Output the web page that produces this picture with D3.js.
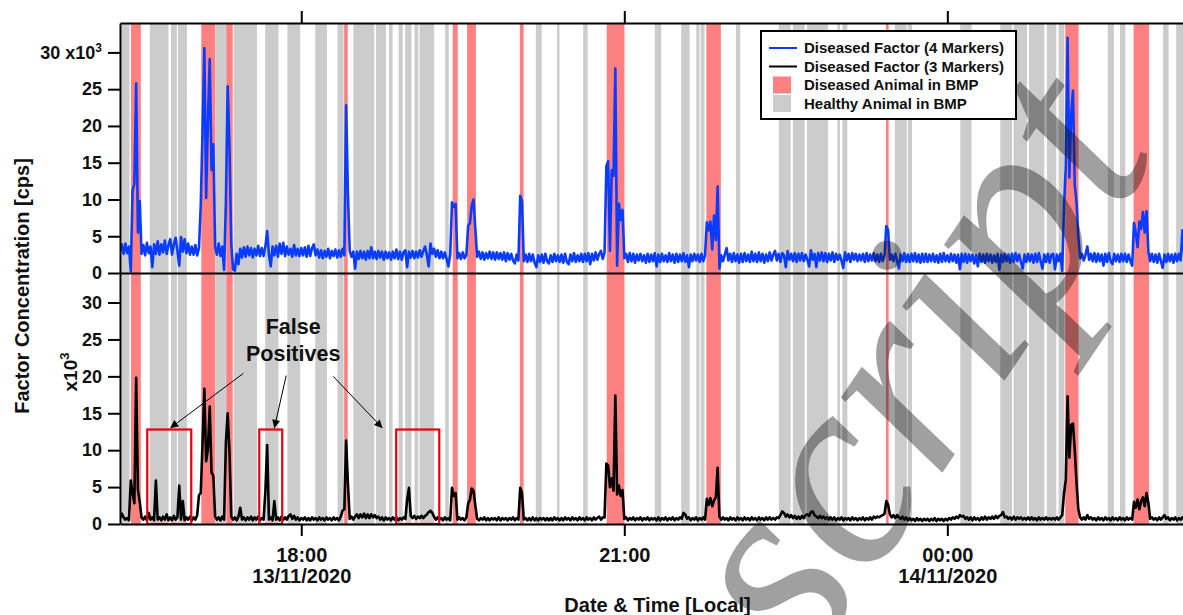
<!DOCTYPE html>
<html>
<head>
<meta charset="utf-8">
<script src="https://cdn.jsdelivr.net/npm/d3@7"></script>
<style>
  body { margin: 0; background: #fff; }
  svg { display: block; }
  text { font-family: "Liberation Sans", Arial, sans-serif; font-weight: bold; fill: #111; }
</style>
</head>
<body>
<svg id="chart" width="1183" height="615"></svg>
<script>
// Recording starts 13/11/2020 16:19 local time, one sample per minute.
const recordStart = new Date(2020, 10, 13, 16, 19);
const sampleMinutes = 1;

// Diseased factor, 4 markers (x10^3 cps)
const factor4 = [
  3.0, 3.9, 2.6, 4.0, 2.7, 3.6, 0.2, 11.2, 12.1, 25.8,
  5.5, 9.8, 2.6, 3.8, 2.4, 4.1, 2.7, 3.6, 0.8, 3.9,
  2.6, 4.3, 2.5, 3.9, 2.8, 4.4, 2.6, 3.8, 4.6, 2.5,
  3.9, 4.8, 3.0, 1.0, 4.9, 2.9, 4.6, 2.7, 4.0, 2.5,
  3.6, 2.5, 3.8, 2.4, 3.4, 9.2, 19.5, 30.6, 10.2, 20.8,
  29.1, 14.0, 17.5, 3.6, 2.5, 4.0, 2.3, 3.6, 0.4, 9.5,
  25.4, 17.2, 4.0, 0.5, 0.3, 2.6, 1.2, 3.3, 2.1, 3.5,
  2.2, 3.6, 2.4, 3.4, 2.1, 3.3, 2.4, 3.7, 2.3, 3.4,
  2.3, 3.6, 5.7, 2.5, 0.9, 3.6, 2.4, 3.7, 2.2, 4.0,
  2.6, 4.1, 2.3, 3.6, 2.5, 3.3, 2.2, 3.8, 2.4, 3.3,
  2.3, 3.4, 2.4, 3.5, 2.2, 3.7, 2.3, 3.4, 3.9, 2.4,
  3.2, 2.1, 3.1, 2.0, 3.0, 2.2, 3.3, 2.0, 3.0, 2.3,
  3.2, 2.1, 3.1, 2.2, 3.3, 2.4, 22.8, 10.8, 3.0, 2.2,
  2.9, 0.6, 2.9, 1.9, 3.0, 2.0, 2.9, 1.8, 3.0, 2.0,
  3.5, 2.0, 2.9, 1.9, 3.0, 2.1, 2.9, 1.8, 2.9, 2.0,
  2.8, 1.8, 2.9, 2.0, 3.2, 1.9, 2.9, 1.8, 2.8, 3.1,
  0.8, 2.9, 2.1, 3.0, 2.0, 2.9, 2.1, 3.1, 2.2, 3.0,
  3.6, 2.4, 0.9, 4.0, 2.6, 3.3, 2.2, 3.1, 2.0, 2.9,
  2.0, 2.8, 1.9, 0.9, 2.6, 9.6, 9.0, 9.4, 2.0, 2.7,
  1.9, 2.8, 2.0, 2.5, 6.4, 6.8, 9.2, 10.0, 6.0, 2.2,
  2.9, 1.9, 2.8, 1.8, 2.7, 2.0, 2.9, 1.9, 2.8, 1.8,
  2.8, 1.9, 2.7, 1.8, 2.8, 1.6, 2.7, 1.8, 2.6, 1.7,
  1.3, 2.5, 1.7, 10.5, 9.8, 1.6, 2.5, 1.5, 2.6, 1.6,
  2.5, 1.4, 0.8, 2.4, 1.5, 2.5, 1.4, 2.6, 1.6, 1.3,
  2.4, 1.5, 2.6, 1.6, 2.4, 1.5, 2.5, 1.4, 2.6, 1.5,
  1.2, 2.5, 1.6, 2.7, 1.5, 2.4, 1.6, 2.6, 1.5, 2.6,
  1.6, 2.7, 1.2, 2.6, 1.7, 2.8, 1.8, 2.6, 3.0, 1.9,
  2.8, 14.5, 15.2, 3.0, 14.0, 13.2, 27.8, 1.0, 9.4, 7.2,
  8.6, 2.0, 2.6, 1.5, 2.7, 1.6, 2.6, 1.4, 2.5, 1.7,
  2.6, 1.6, 2.4, 1.4, 2.6, 1.5, 2.5, 1.6, 2.7, 0.9,
  2.5, 1.5, 2.6, 1.6, 2.4, 1.5, 2.7, 1.6, 2.5, 1.4,
  2.6, 1.5, 2.5, 1.6, 2.7, 1.5, 2.4, 0.8, 2.5, 1.6,
  2.6, 1.7, 2.5, 1.5, 2.6, 1.6, 2.4, 6.9, 5.8, 7.0,
  3.2, 7.8, 4.5, 11.8, 0.6, 2.4, 1.6, 2.5, 3.4, 1.7,
  2.6, 1.5, 2.7, 1.6, 2.5, 1.4, 2.6, 1.5, 2.7, 1.6,
  2.5, 1.5, 2.9, 1.6, 2.6, 1.5, 2.8, 1.6, 2.6, 1.4,
  2.5, 1.6, 2.8, 1.7, 2.5, 3.0, 1.7, 2.6, 1.5, 2.7,
  2.4, 0.8, 3.0, 1.8, 2.6, 1.6, 2.7, 1.5, 2.6, 1.7,
  2.7, 1.6, 2.5, 1.8, 0.9, 3.1, 1.8, 2.6, 0.8, 2.7,
  1.7, 2.8, 1.6, 2.7, 1.5, 2.6, 1.7, 2.8, 1.5, 2.6,
  1.8, 2.5, 1.7, 0.7, 2.8, 1.7, 2.6, 1.5, 2.7, 1.8,
  2.6, 1.6, 2.5, 1.7, 2.6, 1.5, 2.7, 1.6, 2.5, 1.7,
  2.7, 1.6, 2.5, 1.5, 2.6, 1.6, 2.4, 6.4, 5.8, 1.8,
  2.5, 1.6, 2.6, 1.7, 0.6, 2.5, 1.6, 2.7, 1.5, 2.5,
  1.5, 2.6, 1.6, 2.7, 1.5, 2.5, 1.4, 2.6, 1.5, 2.6,
  1.5, 2.5, 1.6, 2.6, 1.5, 2.4, 1.4, 2.6, 1.5, 2.7,
  1.6, 2.4, 1.5, 2.6, 1.6, 2.5, 1.4, 2.5, 0.5, 2.6,
  1.5, 2.6, 1.4, 2.5, 1.6, 2.5, 1.3, 2.4, 0.9, 2.6,
  1.5, 2.5, 1.4, 2.6, 1.6, 2.5, 1.4, 2.4, 1.5, 2.6,
  0.4, 2.5, 1.5, 2.6, 1.6, 2.5, 1.4, 2.6, 1.5, 2.7,
  1.6, 2.5, 1.5, 0.6, 2.5, 1.5, 2.6, 1.6, 2.5, 1.4,
  2.6, 1.5, 2.7, 1.6, 0.6, 2.5, 1.5, 2.6, 1.4, 2.5,
  2.6, 0.5, 2.5, 1.6, 2.6, 0.3, 8.8, 14.5, 32.0, 13.0,
  21.4, 24.8, 12.0, 9.5, 5.0, 2.0, 2.6, 1.7, 2.5, 3.6,
  1.8, 2.6, 1.6, 2.7, 1.5, 2.6, 1.6, 2.5, 1.0, 2.6,
  1.5, 2.7, 1.6, 1.2, 2.6, 1.6, 2.5, 1.5, 2.6, 1.6,
  2.6, 1.5, 2.5, 1.6, 1.0, 6.8, 5.5, 3.5, 7.0, 6.0,
  8.3, 5.5, 8.4, 3.0, 1.6, 2.6, 1.5, 2.5, 1.4, 2.6,
  1.6, 0.7, 2.5, 1.5, 2.6, 1.6, 2.5, 1.4, 2.6, 1.6,
  2.6, 1.7, 5.8, 2.4, 1.6, 2.5, 1.5, 2.6, 1.6, 2.4
];

// Diseased factor, 3 markers (x10^3 cps)
const factor3 = [
  0.8, 1.4, 0.9, 0.6, 0.8, 0.5, 5.9, 4.2, 2.8, 19.8,
  4.6, 3.0, 0.9, 0.6, 1.0, 0.5, 1.5, 0.6, 0.9, 0.5,
  5.9, 0.6, 0.9, 0.5, 1.0, 0.6, 1.3, 0.5, 0.9, 0.5,
  1.1, 0.6, 0.9, 5.2, 0.6, 3.1, 0.5, 0.9, 0.6, 1.0,
  0.5, 0.9, 0.6, 1.2, 3.9, 4.2, 11.0, 18.3, 8.5, 10.2,
  15.9, 7.0, 6.5, 1.0, 0.6, 0.9, 0.5, 1.0, 0.6, 11.0,
  15.0, 9.8, 1.0, 0.6, 0.9, 0.5, 1.0, 2.2, 0.6, 0.9,
  0.5, 0.9, 0.6, 1.0, 0.5, 0.9, 0.6, 1.0, 0.5, 0.8,
  0.6, 4.4, 10.7, 0.6, 0.9, 0.5, 3.1, 0.6, 0.9, 0.5,
  1.0, 0.6, 0.9, 0.6, 1.1, 1.3, 0.7, 1.1, 0.6, 0.9,
  0.5, 0.8, 0.6, 0.9, 0.5, 0.8, 0.5, 0.9, 0.6, 0.8,
  0.5, 0.9, 0.6, 0.8, 0.5, 0.9, 0.6, 0.8, 0.5, 0.9,
  0.6, 0.8, 0.5, 1.0, 1.8, 2.0, 11.3, 5.5, 0.7, 1.0,
  0.6, 1.0, 1.3, 0.8, 1.3, 0.9, 1.4, 0.8, 1.3, 0.8,
  1.3, 0.9, 1.2, 0.8, 1.0, 0.6, 0.9, 0.5, 0.9, 0.6,
  0.8, 0.5, 0.9, 0.6, 0.9, 0.5, 0.8, 0.6, 0.9, 0.7,
  3.3, 4.9, 1.1, 0.8, 1.1, 0.7, 1.0, 0.8, 1.1, 0.8,
  1.1, 1.3, 1.6, 1.8, 1.5, 1.0, 0.6, 0.9, 0.6, 0.8,
  0.5, 0.9, 0.6, 0.8, 0.5, 4.9, 3.8, 4.2, 0.6, 0.9,
  0.6, 0.8, 0.5, 0.9, 2.8, 3.3, 4.8, 4.5, 2.5, 0.7,
  0.5, 0.8, 0.6, 0.9, 0.5, 0.8, 0.5, 0.8, 0.6, 0.8,
  0.5, 0.9, 0.5, 0.8, 0.6, 0.8, 0.5, 0.8, 0.6, 0.9,
  0.5, 0.8, 0.6, 4.9, 4.2, 0.6, 0.8, 0.5, 0.8, 0.5,
  0.9, 0.5, 0.8, 0.5, 0.8, 0.6, 0.8, 0.5, 0.8, 0.5,
  0.8, 0.5, 0.9, 0.6, 0.8, 0.5, 0.8, 0.5, 0.9, 0.6,
  0.8, 0.5, 0.9, 0.6, 0.8, 0.5, 0.9, 0.6, 0.8, 0.5,
  0.9, 0.6, 0.8, 0.5, 0.9, 0.6, 0.8, 1.0, 0.6, 0.9,
  0.9, 8.2, 7.9, 5.0, 6.2, 4.5, 17.4, 4.0, 5.2, 3.8,
  4.6, 0.7, 0.9, 0.5, 0.8, 0.6, 0.9, 0.5, 0.8, 0.6,
  0.9, 0.5, 0.8, 0.6, 0.9, 0.5, 0.8, 0.6, 0.8, 0.5,
  0.9, 0.5, 0.8, 0.6, 0.9, 0.5, 0.8, 0.6, 0.9, 0.5,
  0.8, 0.6, 0.9, 0.7, 1.5, 1.3, 0.7, 0.9, 0.5, 0.8,
  0.6, 0.9, 0.5, 0.8, 0.6, 0.9, 0.6, 3.4, 2.6, 3.5,
  2.4, 3.2, 3.6, 7.6, 1.0, 0.6, 0.9, 0.6, 0.8, 0.5,
  0.9, 0.6, 0.8, 0.5, 0.9, 0.6, 0.8, 0.5, 0.9, 0.6,
  0.8, 0.5, 0.9, 0.6, 0.8, 0.5, 0.9, 0.6, 0.8, 0.5,
  0.9, 0.6, 0.9, 0.6, 0.8, 0.6, 0.9, 0.8, 1.2, 1.7,
  1.5, 1.0, 1.3, 0.9, 1.2, 0.8, 1.1, 0.7, 1.0, 0.7,
  1.1, 0.8, 1.2, 1.3, 1.1, 1.6, 1.7, 1.2, 1.0, 0.8,
  1.1, 0.8, 1.0, 0.7, 0.9, 0.6, 0.9, 0.6, 0.9, 0.5,
  0.8, 0.6, 0.9, 0.5, 0.8, 0.6, 0.8, 0.5, 0.9, 0.6,
  0.8, 0.5, 0.8, 0.6, 0.9, 0.5, 0.8, 0.6, 0.9, 0.6,
  1.0, 0.8, 1.0, 0.9, 1.1, 1.2, 1.4, 3.1, 2.6, 1.3,
  0.9, 1.2, 0.8, 1.2, 0.9, 0.7, 1.0, 0.6, 0.9, 0.5,
  0.8, 0.5, 0.7, 0.4, 0.8, 0.5, 0.7, 0.4, 0.7, 0.5,
  0.7, 0.4, 0.7, 0.5, 0.8, 0.4, 0.7, 0.5, 0.7, 0.4,
  0.7, 0.5, 0.8, 0.6, 0.9, 0.7, 1.0, 0.8, 1.2, 1.0,
  1.1, 0.7, 0.9, 0.6, 0.9, 0.5, 0.9, 0.6, 0.8, 0.5,
  0.9, 0.6, 1.0, 0.6, 0.9, 0.7, 1.0, 0.7, 1.1, 0.8,
  1.1, 1.2, 1.6, 0.9, 1.0, 0.7, 0.9, 0.6, 1.0, 0.6,
  0.9, 0.7, 0.9, 0.6, 0.8, 0.6, 0.9, 0.6, 0.9, 0.6,
  0.8, 0.5, 0.9, 0.6, 0.8, 0.6, 0.9, 0.6, 0.8, 0.6,
  0.8, 0.6, 0.9, 0.6, 0.9, 1.2, 4.1, 6.0, 17.3, 9.0,
  13.4, 13.6, 10.0, 5.5, 2.0, 0.9, 0.6, 0.9, 0.6, 1.2,
  0.7, 0.9, 0.6, 0.8, 0.5, 0.9, 0.6, 0.8, 0.5, 0.9,
  0.6, 0.8, 0.5, 0.9, 0.6, 0.8, 0.5, 0.9, 0.6, 0.8,
  0.5, 0.9, 0.6, 0.8, 0.6, 3.0, 2.2, 3.3, 2.0, 3.1,
  3.6, 2.4, 4.2, 2.9, 0.7, 0.9, 0.6, 0.8, 0.5, 0.9,
  0.6, 0.9, 1.2, 0.7, 0.9, 0.5, 0.8, 0.6, 0.9, 0.5,
  0.8, 0.6, 0.9, 0.6, 0.8, 0.5, 0.9, 0.6, 0.8, 0.6
];

// Animal presence in the BMP, as [start, end] in minutes after recordStart
const diseasedVisits = [
  [6.1, 11.6], [45.3, 53.1], [59.2, 62.8], [124.9, 126.9], [185.4, 188.2],
  [193.4, 198.3], [222.8, 224.9], [271.2, 281.1], [326.7, 334.8],
  [426.8, 428.3], [526.7, 534.1], [564.8, 573.4]
];
const healthyVisits = [
  [0.9, 5.3], [16.6, 27.0], [28.4, 31.7], [32.3, 37.3], [53.3, 59.0],
  [63.3, 76.3], [80.9, 88.3], [93.3, 100.4], [108.8, 115.3], [121.2, 124.6],
  [130.0, 141.7], [142.6, 148.2], [149.9, 151.9], [155.2, 157.5], [158.9, 162.4],
  [164.1, 166.2], [166.9, 175.1], [181.2, 183.2], [231.7, 235.0], [243.5, 244.9],
  [258.1, 260.6], [298.0, 301.6], [312.7, 317.4], [321.1, 322.9], [323.5, 325.7],
  [343.2, 345.6], [367.1, 373.7], [374.9, 381.5], [382.8, 394.5], [399.7, 401.2],
  [402.5, 405.3], [431.7, 438.4], [439.0, 441.3], [468.2, 474.5], [490.5, 497.0],
  [497.9, 505.4], [506.5, 515.0], [516.5, 521.7], [523.0, 526.2], [550.4, 553.8],
  [557.2, 560.2], [581.2, 584.3], [588.5, 593.0]
];

// False-positive windows on the 3-marker factor: [start min, end min, upper level]
const falsePositiveWindows = [[15.2, 39.7, 12.8], [77.6, 90.4, 12.8], [153.9, 177.9, 12.8]];
// Callout text anchor and arrows [fromMin, fromLevel, toMin, toLevel]
const calloutAnchor = [96.5, 25.7];
const calloutLines = ["False", "Positives"];
const calloutArrows = [[68.7, 20.4, 28.0, 13.0], [92.6, 20.1, 86.0, 13.0], [118.8, 20.0, 146.2, 13.0]];

const levelTicks = [0, 5, 10, 15, 20, 25, 30];
const timeTicks = [new Date(2020, 10, 13, 18), new Date(2020, 10, 13, 21), new Date(2020, 10, 14, 0)];
const timeTickLabels = [["18:00", "13/11/2020"], ["21:00"], ["00:00", "14/11/2020"]];
const legendItems = [
  { label: "Diseased Factor (4 Markers)", kind: "line", color: "#0a3cff" },
  { label: "Diseased Factor (3 Markers)", kind: "line", color: "#000" },
  { label: "Diseased Animal in BMP", kind: "box", color: "#ff8080" },
  { label: "Healthy Animal in BMP", kind: "box", color: "#cccccc" }
];

const atMinute = m => new Date(recordStart.getTime() + m * 60000);
const lastMinute = (factor4.length - 1) * sampleMinutes;

const svg = d3.select("#chart");
const plotLeft = 120, plotRight = 1195, plotTop = 23, plotMid = 273, plotBottom = 524;

const x = d3.scaleTime().domain([atMinute(0), atMinute(lastMinute)]).range([plotLeft, plotRight]);
const yTop = d3.scaleLinear().domain([0, 34]).range([plotMid, plotTop]);
const yBot = d3.scaleLinear().domain([0, 34]).range([plotBottom, plotMid]);

const defs = svg.append("defs");
defs.append("clipPath").attr("id", "plotClip")
  .append("rect").attr("x", plotLeft).attr("y", plotTop)
  .attr("width", plotRight - plotLeft).attr("height", plotBottom - plotTop);

const plot = svg.append("g").attr("clip-path", "url(#plotClip)");
const spanX = d => x(atMinute(d[0]));
const spanW = d => x(atMinute(d[1])) - x(atMinute(d[0]));

// Presence bands through both panels
plot.append("g").selectAll("rect").data(healthyVisits).join("rect")
  .attr("x", spanX).attr("width", spanW)
  .attr("y", plotTop).attr("height", plotBottom - plotTop).attr("fill", "#cccccc");
plot.append("g").selectAll("rect").data(diseasedVisits).join("rect")
  .attr("x", spanX).attr("width", spanW)
  .attr("y", plotTop).attr("height", plotBottom - plotTop).attr("fill", "#ff8080");

// Factor traces
const lineTop = d3.line().x((d, i) => x(atMinute(i * sampleMinutes))).y(d => yTop(d));
const lineBot = d3.line().x((d, i) => x(atMinute(i * sampleMinutes))).y(d => yBot(d));
plot.append("path").datum(factor4).attr("d", lineTop)
  .attr("fill", "none").attr("stroke", "#0a3cff").attr("stroke-width", 2.6).attr("stroke-linejoin", "round");
plot.append("path").datum(factor3).attr("d", lineBot)
  .attr("fill", "none").attr("stroke", "#000").attr("stroke-width", 2.6).attr("stroke-linejoin", "round");

// False-positive windows
plot.append("g").selectAll("rect").data(falsePositiveWindows).join("rect")
  .attr("x", spanX).attr("width", spanW)
  .attr("y", d => yBot(d[2])).attr("height", d => yBot(0) - yBot(d[2]))
  .attr("fill", "none").attr("stroke", "#e8000b").attr("stroke-width", 2.2);

// Callout
defs.append("marker").attr("id", "arrowHead")
  .attr("viewBox", "0 0 10 10").attr("refX", 10).attr("refY", 5)
  .attr("markerWidth", 11).attr("markerHeight", 8).attr("markerUnits", "userSpaceOnUse")
  .attr("orient", "auto")
  .append("path").attr("d", "M0,0 L10,5 L0,10 z").attr("fill", "#000");
svg.append("g").selectAll("line").data(calloutArrows).join("line")
  .attr("x1", d => x(atMinute(d[0]))).attr("y1", d => yBot(d[1]))
  .attr("x2", d => x(atMinute(d[2]))).attr("y2", d => yBot(d[3]))
  .attr("stroke", "#000").attr("stroke-width", 1).attr("marker-end", "url(#arrowHead)");
svg.append("text").attr("text-anchor", "middle").style("font-size", "21.5px")
  .selectAll("tspan").data(calloutLines).join("tspan")
  .attr("x", x(atMinute(calloutAnchor[0])))
  .attr("y", (d, i) => yBot(calloutAnchor[1]) + i * 27).text(d => d);

// Axes
const styleAxis = g => {
  g.select(".domain").attr("stroke", "#000").attr("stroke-width", 2);
  g.selectAll(".tick line").attr("stroke", "#000").attr("stroke-width", 2);
};
svg.append("g").attr("transform", `translate(0,${plotTop})`)
  .call(d3.axisTop(x).tickValues(timeTicks).tickSize(12).tickSizeOuter(0).tickFormat(""))
  .call(styleAxis);
svg.append("g").attr("transform", `translate(0,${plotMid})`)
  .call(d3.axisBottom(x).tickValues([]).tickSizeOuter(0))
  .call(styleAxis);
const xAxis = svg.append("g").attr("transform", `translate(0,${plotBottom})`)
  .call(d3.axisBottom(x).tickValues(timeTicks).tickSize(12).tickSizeOuter(0).tickFormat(""))
  .call(styleAxis);
xAxis.selectAll(".tick").each(function (d, i) {
  const t = d3.select(this).append("text").attr("fill", "#111").attr("text-anchor", "middle")
    .style("font-size", "20px");
  timeTickLabels[i].forEach((s, k) => t.append("tspan").attr("x", 0).attr("y", 38 + k * 21).text(s));
});

const yAxisTop = svg.append("g").attr("transform", `translate(${plotLeft},0)`)
  .call(d3.axisLeft(yTop).tickValues(levelTicks).tickSize(12).tickSizeOuter(0).tickPadding(6))
  .call(styleAxis);
const yAxisBot = svg.append("g").attr("transform", `translate(${plotLeft},0)`)
  .call(d3.axisLeft(yBot).tickValues(levelTicks).tickSize(12).tickSizeOuter(0).tickPadding(6))
  .call(styleAxis);
yAxisTop.selectAll(".tick text").attr("fill", "#111").style("font-size", "18px");
yAxisBot.selectAll(".tick text").attr("fill", "#111").style("font-size", "18px");
yAxisTop.selectAll(".tick text").filter(d => d === 30).each(function () {
  const t = d3.select(this).text("30 x10");
  t.append("tspan").attr("dy", "-0.55em").style("font-size", "12px").text("3");
});

// Axis titles
svg.append("text").attr("transform", "translate(29,286) rotate(-90)")
  .attr("text-anchor", "middle").style("font-size", "20px").text("Factor Concentration [cps]");
const mult = svg.append("text").attr("transform", "translate(77,372) rotate(-90)")
  .attr("text-anchor", "middle").style("font-size", "19px").text("x10");
mult.append("tspan").attr("dy", "-0.6em").style("font-size", "13px").text("3");
svg.append("text").attr("x", (plotLeft + plotRight) / 2).attr("y", 612)
  .attr("text-anchor", "middle").style("font-size", "20px").text("Date & Time [Local]");

// Legend
const legend = svg.append("g").attr("transform", "translate(761,31)");
legend.append("rect").attr("width", 255).attr("height", 88)
  .attr("fill", "#fff").attr("stroke", "#000").attr("stroke-width", 2);
const rows = legend.selectAll("g.item").data(legendItems).join("g")
  .attr("class", "item").attr("transform", (d, i) => `translate(0,${17 + i * 18.5})`);
rows.filter(d => d.kind === "line").append("line")
  .attr("x1", 8).attr("x2", 36).attr("y1", 0).attr("y2", 0)
  .attr("stroke", d => d.color).attr("stroke-width", 2);
rows.filter(d => d.kind === "box").append("rect")
  .attr("x", 12).attr("y", -8.5).attr("width", 18).attr("height", 17).attr("fill", d => d.color);
rows.append("text").attr("x", 43).attr("y", 0).attr("dy", "0.36em")
  .style("font-size", "15px").text(d => d.label);

// Watermark
svg.append("text").attr("transform", "translate(808,672) rotate(-56)")
  .style("font-family", "'Liberation Serif', 'DejaVu Serif', serif")
  .style("font-style", "italic").style("font-weight", "normal").style("font-size", "275px")
  .attr("fill", "#3a3a3a").attr("fill-opacity", 0.4).text("script");
</script>
</body>
</html>
